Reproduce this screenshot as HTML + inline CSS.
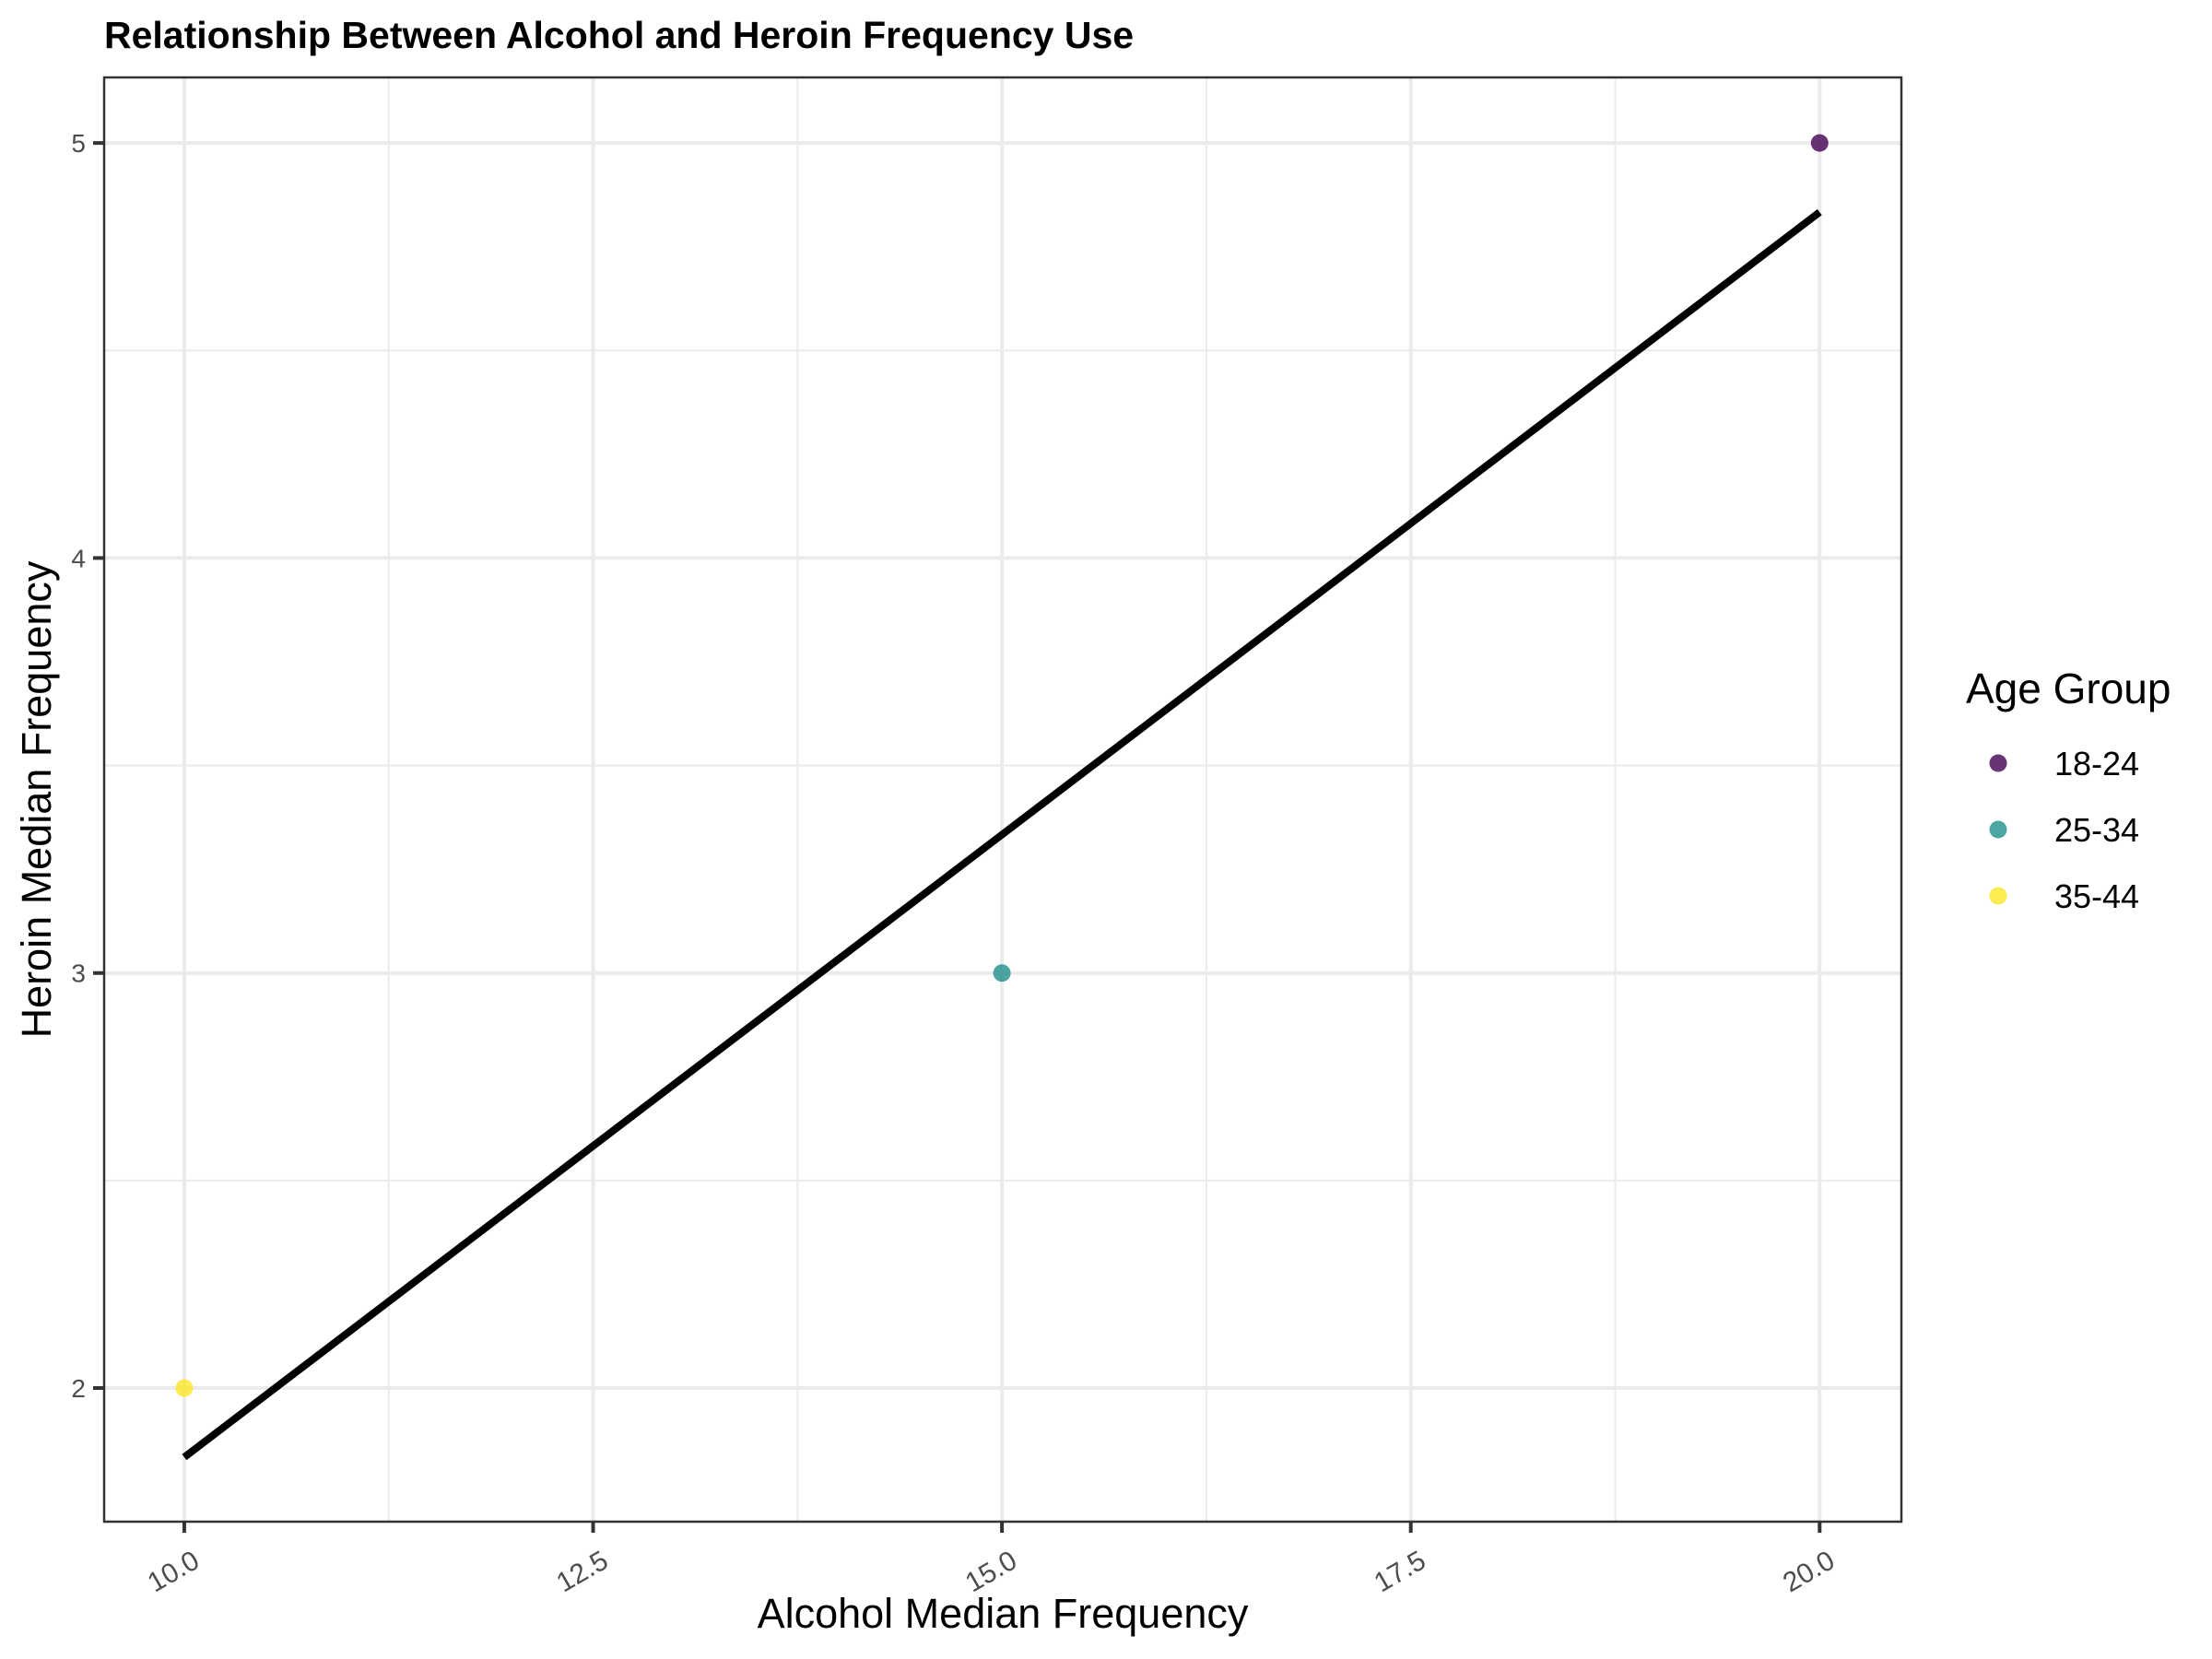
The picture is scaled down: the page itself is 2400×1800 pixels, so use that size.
<!DOCTYPE html>
<html><head><meta charset="utf-8"><style>body{margin:0;background:#fff}svg{display:block;font-family:"Liberation Sans",Arial,sans-serif}</style></head>
<body>
<svg id="chart" width="2400" height="1800" viewBox="0 0 2400 1800"></svg>
<script>
const categories = ["18-24","25-34","35-44"];
const alcoholValues = [20,15,10];
const heroinValues = [5,3,2];
const colors = ["#440154","#21908C","#FDE725"];
const xTicks = [10,12.5,15,17.5,20];
const xTickLabels = ["10.0","12.5","15.0","17.5","20.0"];
const yTicks = [2,3,4,5];
const yTickLabels = ["2","3","4","5"];

const L=113,R=2063,T=84,B=1651;
const xMin=9.51,xMax=20.5,yMin=1.678,yMax=5.158;
const sx=v=>L+(v-xMin)/(xMax-xMin)*(R-L);
const sy=v=>B-(v-yMin)/(yMax-yMin)*(B-T);
const svg=document.getElementById('chart');
const NS='http://www.w3.org/2000/svg';
function mk(tag,attrs,parent){const e=document.createElementNS(NS,tag);for(const k in attrs)e.setAttribute(k,attrs[k]);(parent||svg).appendChild(e);return e;}

let t=mk('text',{x:113,y:52,'font-size':41,'font-weight':'bold',fill:'#000'});
t.textContent='Relationship Between Alcohol and Heroin Frequency Use';



for(let i=0;i<xTicks.length-1;i++){const v=(xTicks[i]+xTicks[i+1])/2;
 const g=mk('line',{x1:sx(v),x2:sx(v),y1:T,y2:B,stroke:'#ebebeb','stroke-width':2});
 
 }
for(let i=0;i<yTicks.length-1;i++){const v=(yTicks[i]+yTicks[i+1])/2;
 const g=mk('line',{x1:L,x2:R,y1:sy(v),y2:sy(v),stroke:'#ebebeb','stroke-width':2});
 
 }
xTicks.forEach((v,i)=>{
 const g=mk('line',{x1:sx(v),x2:sx(v),y1:T,y2:B,stroke:'#ebebeb','stroke-width':4});
 
 
 const tk=mk('line',{x1:sx(v),x2:sx(v),y1:B,y2:B+12,stroke:'#333','stroke-width':4});
 
 
 const lb=mk('text',{x:sx(v)+8,y:B+30,'font-size':30,fill:'#4d4d4d','text-anchor':'end',transform:`rotate(-30 ${sx(v)+8} ${B+30})`,'dominant-baseline':'hanging'});
 lb.textContent=xTickLabels[i];
 
 
});
yTicks.forEach((v,i)=>{
 const g=mk('line',{x1:L,x2:R,y1:sy(v),y2:sy(v),stroke:'#ebebeb','stroke-width':4});
 
 
 const tk=mk('line',{x1:L-12,x2:L,y1:sy(v),y2:sy(v),stroke:'#333','stroke-width':4});
 
 
 const lb=mk('text',{x:L-20,y:sy(v)+10,'font-size':28,fill:'#4d4d4d','text-anchor':'end'});
 lb.textContent=yTickLabels[i];
 
 
});
const n=alcoholValues.length;
const mx=alcoholValues.reduce((a,b)=>a+b)/n, my=heroinValues.reduce((a,b)=>a+b)/n;
let num=0,den=0;for(let i=0;i<n;i++){num+=(alcoholValues[i]-mx)*(heroinValues[i]-my);den+=(alcoholValues[i]-mx)**2;}
const slope=num/den, icpt=my-slope*mx;
const x0=Math.min(...alcoholValues),x1=Math.max(...alcoholValues);
const ln=mk('line',{x1:sx(x0),y1:sy(icpt+slope*x0),x2:sx(x1),y2:sy(icpt+slope*x1),stroke:'#000','stroke-width':8});


for(let i=0;i<n;i++){
 const c=mk('circle',{cx:sx(alcoholValues[i]),cy:sy(heroinValues[i]),r:9.5,fill:colors[i],'fill-opacity':0.8});
 
 
}
const br=mk('rect',{x:L,y:T,width:R-L,height:B-T,fill:'none',stroke:'#333','stroke-width':2.5});


const xt=mk('text',{x:(L+R)/2,y:1766,'font-size':45,fill:'#000','text-anchor':'middle'});
xt.textContent='Alcohol Median Frequency';


const yt=mk('text',{x:55,y:(T+B)/2,'font-size':45,fill:'#000','text-anchor':'middle',transform:`rotate(-90 55 ${(T+B)/2})`});
yt.textContent='Heroin Median Frequency';


const lt=mk('text',{x:2133,y:763,'font-size':46,fill:'#000'});
lt.textContent='Age Group';


categories.forEach((c,i)=>{
 const y=828+i*72;
 const g=mk('g',{});
 
 
 mk('circle',{cx:2168,cy:y,r:9.5,fill:colors[i],'fill-opacity':0.8},g);
 const tx=mk('text',{x:2229,y:y+13,'font-size':36,fill:'#000'},g);
 tx.textContent=c;
});
</script>
</body></html>
